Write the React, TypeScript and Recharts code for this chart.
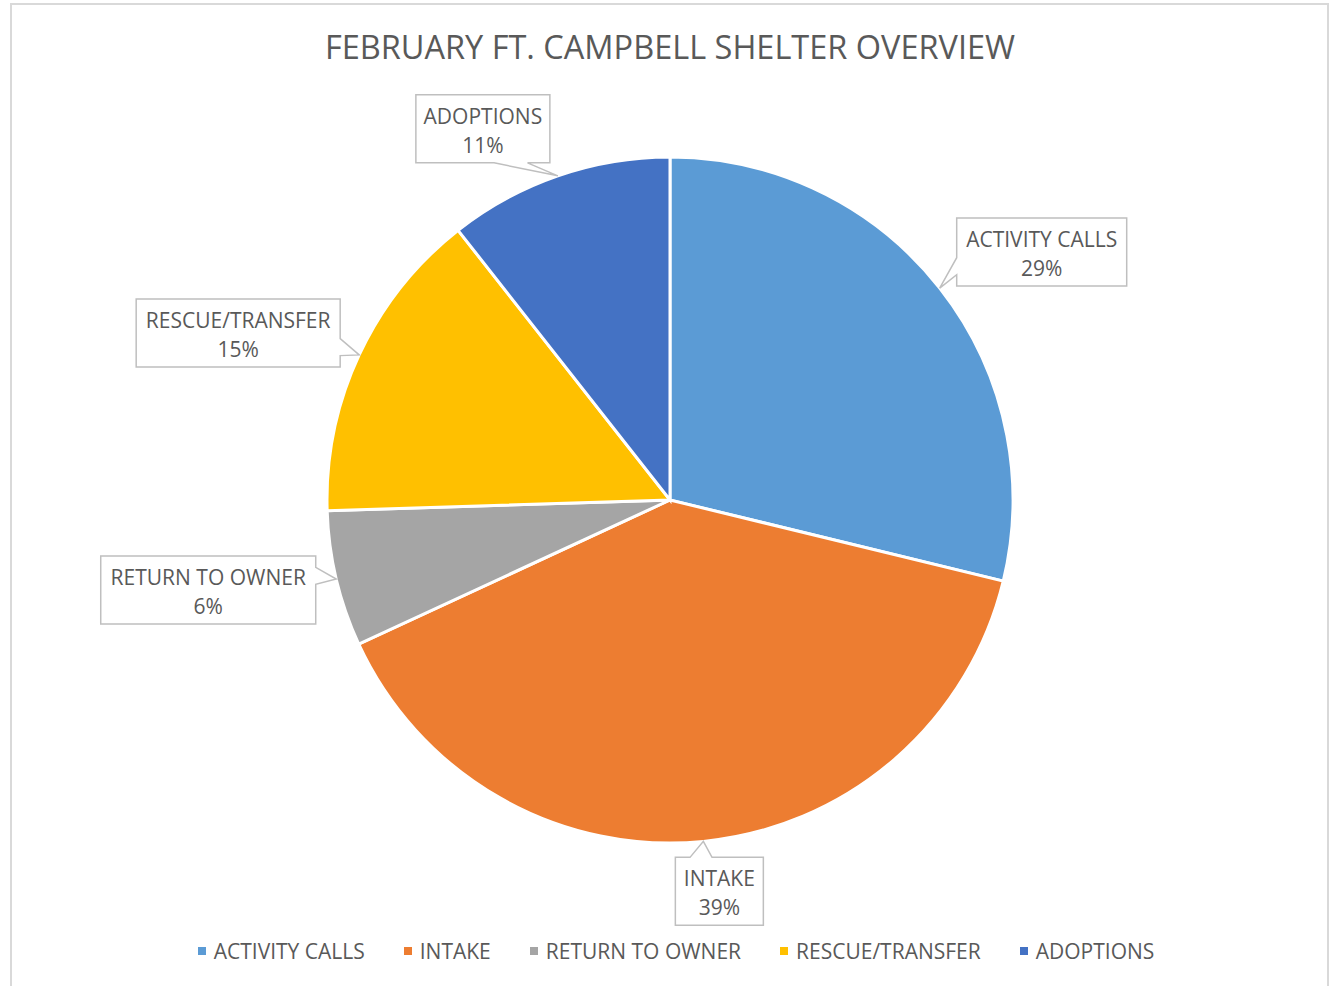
import { Cell, Legend, Pie, PieChart } from 'recharts'

const CATEGORIES = ['ACTIVITY CALLS', 'INTAKE', 'RETURN TO OWNER', 'RESCUE/TRANSFER', 'ADOPTIONS']
const SHARES = [28.8, 39.3, 6.4, 14.9, 10.6]
const COLORS = ['#5B9BD5', '#ED7D31', '#A5A5A5', '#FFC000', '#4472C4']

// where each callout box sits relative to its slice tip (hand placed, like in Excel)
const CALLOUTS = [
  { dx: 102, dy: -36, w: 170 },
  { dx: 16, dy: 50, w: 88 },
  { dx: -128, dy: 11, w: 215 },
  { dx: -121, dy: -22, w: 204 },
  { dx: -75, dy: -47, w: 134 },
]

const FONT = '"Open Sans", sans-serif'
const TEXT = '#595959'
const RAD = Math.PI / 180
const BOX_H = 68

const data = CATEGORIES.map((name, i) => ({ name, value: SHARES[i] }))

function Callout(props: any) {
  const { cx, cy, midAngle, outerRadius, index, percent, name } = props
  const tx = cx + outerRadius * Math.cos(-midAngle * RAD)
  const ty = cy + outerRadius * Math.sin(-midAngle * RAD)
  const { dx, dy, w } = CALLOUTS[index]
  const h = BOX_H
  const bx = tx + dx
  const by = ty + dy
  const l = bx - w / 2
  const r = bx + w / 2
  const t = by - h / 2
  const b = by + h / 2
  const px = tx - bx
  const py = ty - by

  let pts: number[][]
  if (Math.abs(px) * h > Math.abs(py) * w) {
    const y1 = py < 0 ? t + h / 6 : t + (7 * h) / 12
    const y2 = py < 0 ? t + (5 * h) / 12 : t + (5 * h) / 6
    pts =
      px < 0
        ? [[l, t], [r, t], [r, b], [l, b], [l, y2], [tx, ty], [l, y1]]
        : [[l, t], [r, t], [r, y1], [tx, ty], [r, y2], [r, b], [l, b]]
  } else {
    const x1 = px < 0 ? l + w / 6 : l + (7 * w) / 12
    const x2 = px < 0 ? l + (5 * w) / 12 : l + (5 * w) / 6
    pts =
      py < 0
        ? [[l, t], [x1, t], [tx, ty], [x2, t], [r, t], [r, b], [l, b]]
        : [[l, t], [r, t], [r, b], [x2, b], [tx, ty], [x1, b], [l, b]]
  }

  return (
    <g>
      <polygon points={pts.map((p) => p.join(',')).join(' ')} fill="#fff" stroke="#BFBFBF" strokeWidth={1.5} />
      <text x={bx} textAnchor="middle" fill={TEXT} fontFamily={FONT} fontSize={21}>
        <tspan x={bx} y={by - 5}>{name}</tspan>
        <tspan x={bx} y={by + 24}>{`${Math.round(percent * 100)}%`}</tspan>
      </text>
    </g>
  )
}

function LegendRow({ payload }: any) {
  // keep the series order, not the alphabetical one
  const items = [...(payload ?? [])].sort(
    (a: any, b: any) => CATEGORIES.indexOf(a.value) - CATEGORIES.indexOf(b.value),
  )
  return (
    <div style={{ display: 'flex', justifyContent: 'center', gap: 39, fontFamily: FONT, fontSize: 21, color: TEXT }}>
      {items.map((p: any) => (
        <div key={p.value} style={{ display: 'flex', alignItems: 'center', gap: 8, lineHeight: '24px' }}>
          <span style={{ width: 8, height: 8, background: p.color, display: 'inline-block' }} />
          <span>{p.value}</span>
        </div>
      ))}
    </div>
  )
}

export default function App() {
  return (
    <div style={{ position: 'absolute', left: 0, top: 0, width: 1329, height: 986, overflow: 'hidden', background: '#fff' }}>
      <div
        style={{
          position: 'absolute',
          left: 10,
          top: 3,
          width: 1315,
          height: 1100,
          border: '2px solid #D9D9D9',
        }}
      />
      <div
        style={{
          position: 'absolute',
          left: 0,
          top: 27,
          width: 1340,
          textAlign: 'center',
          fontFamily: FONT,
          fontSize: 32.5,
          lineHeight: '40px',
          color: TEXT,
        }}
      >
        FEBRUARY FT. CAMPBELL SHELTER OVERVIEW
      </div>
      <div style={{ position: 'absolute', left: 0, top: 0 }}>
        <PieChart width={1329} height={986} margin={{ top: 0, right: 0, bottom: 0, left: 0 }}>
          <Pie
            data={data}
            dataKey="value"
            nameKey="name"
            cx={670}
            cy={500}
            outerRadius={343}
            startAngle={90}
            endAngle={-270}
            stroke="#fff"
            strokeWidth={3}
            label={Callout}
            labelLine={false}
            isAnimationActive={false}
          >
            {data.map((_, i) => (
              <Cell key={i} fill={COLORS[i]} />
            ))}
          </Pie>
          <Legend content={<LegendRow />} wrapperStyle={{ top: 939, left: 0, width: 1352 }} />
        </PieChart>
      </div>
    </div>
  )
}
